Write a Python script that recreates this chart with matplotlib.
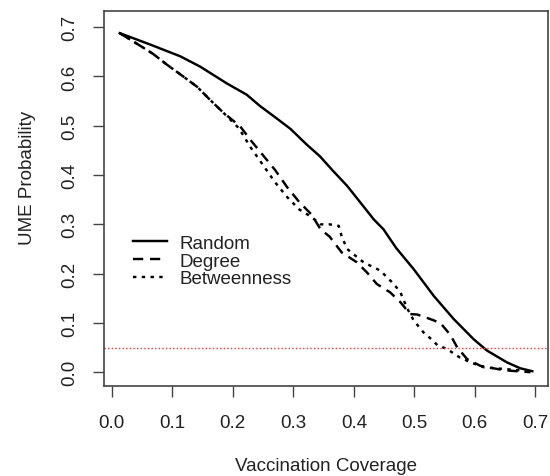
import matplotlib
matplotlib.use("Agg")
import matplotlib.pyplot as plt

plt.rcParams['font.family'] = ['Liberation Sans', 'DejaVu Sans']

# Random strategy
random_x = [0.013, 0.063, 0.113, 0.146, 0.168, 0.190, 0.223, 0.245, 0.267, 0.295, 0.322,
            0.344, 0.366, 0.389, 0.411, 0.433, 0.449, 0.470, 0.499, 0.532, 0.565, 0.598,
            0.620, 0.653, 0.675, 0.695]
random_y = [0.688, 0.665, 0.641, 0.620, 0.603, 0.586, 0.563, 0.540, 0.520, 0.494, 0.462,
            0.438, 0.408, 0.378, 0.344, 0.310, 0.290, 0.252, 0.209, 0.155, 0.108, 0.067,
            0.044, 0.020, 0.008, 0.002]

# Degree strategy
degree_x = [0.013, 0.046, 0.068, 0.091, 0.118, 0.141, 0.162, 0.184, 0.212, 0.230, 0.250,
            0.270, 0.290, 0.310, 0.330, 0.345, 0.360, 0.380, 0.405, 0.422, 0.438, 0.460,
            0.477, 0.493, 0.505, 0.526, 0.543, 0.560, 0.571, 0.587, 0.609, 0.648, 0.692]
degree_y = [0.688, 0.663, 0.646, 0.624, 0.600, 0.579, 0.553, 0.527, 0.499, 0.470, 0.440,
            0.410, 0.375, 0.345, 0.320, 0.290, 0.275, 0.243, 0.223, 0.202, 0.179, 0.162,
            0.142, 0.118, 0.117, 0.108, 0.100, 0.075, 0.050, 0.027, 0.013, 0.004, 0.000]

# Betweenness strategy
betw_x = [0.013, 0.046, 0.068, 0.091, 0.118, 0.141, 0.162, 0.184, 0.210, 0.230, 0.250,
          0.270, 0.290, 0.310, 0.330, 0.345, 0.360, 0.375, 0.380, 0.389, 0.416, 0.444,
          0.466, 0.477, 0.488, 0.499, 0.515, 0.530, 0.538, 0.554, 0.575, 0.593, 0.615,
          0.692]
betw_y = [0.688, 0.663, 0.646, 0.624, 0.600, 0.579, 0.553, 0.527, 0.495, 0.455, 0.420,
          0.385, 0.355, 0.330, 0.315, 0.300, 0.300, 0.297, 0.275, 0.250, 0.223, 0.206,
          0.179, 0.162, 0.130, 0.105, 0.081, 0.065, 0.055, 0.047, 0.030, 0.020, 0.010,
          0.002]

threshold = 0.05
xticks = [0.0, 0.1, 0.2, 0.3, 0.4, 0.5, 0.6, 0.7]
yticks = [0.0, 0.1, 0.2, 0.3, 0.4, 0.5, 0.6, 0.7]
series_labels = ["Random", "Degree", "Betweenness"]

FS = 13.5
fig = plt.figure(figsize=(5.5, 4.77), dpi=100)
ax = fig.add_axes([104/550, 1-387/477, (547.7-104)/550, (387-11.7)/477])

lw = 1.75
ax.plot(random_x, random_y, color='black', lw=lw, linestyle='-', label=series_labels[0])
ax.plot(degree_x, degree_y, color='black', lw=lw, linestyle=(0, (4.2, 2.8)), label=series_labels[1])
ax.plot(betw_x, betw_y, color='black', lw=lw, linestyle=(0, (1.4, 2.2)), label=series_labels[2])
ax.axhline(threshold, color='#ff3030', lw=1.0, linestyle=(0, (1, 1.6)))

ax.set_xlim(-0.013, 0.7205)
ax.set_ylim(-0.028, 0.7335)
ax.set_xticks(xticks)
ax.set_yticks(yticks)
ax.set_xticklabels([f"{v:.1f}" for v in xticks])
ax.set_yticklabels([f"{v:.1f}" for v in yticks], rotation=90, va='center')

for s in ax.spines.values():
    s.set_color('#444444')
    s.set_linewidth(1.2)
ax.tick_params(axis='both', direction='out', length=7.8, width=1.0, color='#444444',
               labelsize=FS, labelcolor='#222222')
ax.tick_params(axis='x', pad=12)
ax.tick_params(axis='y', pad=11)

ax.set_xlabel("Vaccination Coverage", fontsize=FS, color='#222222')
ax.xaxis.set_label_coords(0.5, (387-467)/375.3)
ax.xaxis.label.set_va('center')
ax.set_ylabel("UME Probability", fontsize=FS, color='#222222')
ax.yaxis.set_label_coords((28-104)/443.7, (387-178)/375.3)
ax.yaxis.label.set_va('center')
ax.yaxis.label.set_ha('center')

leg = ax.legend(loc='center left', bbox_to_anchor=((133-104)/443.7, (387-262)/375.3),
                frameon=False, fontsize=FS, handlelength=1.8, handletextpad=0.7,
                labelspacing=0.03, borderpad=0, borderaxespad=0)
for t in leg.get_texts():
    t.set_color('#222222')

fig.savefig("out.png", dpi=100, facecolor='white')
